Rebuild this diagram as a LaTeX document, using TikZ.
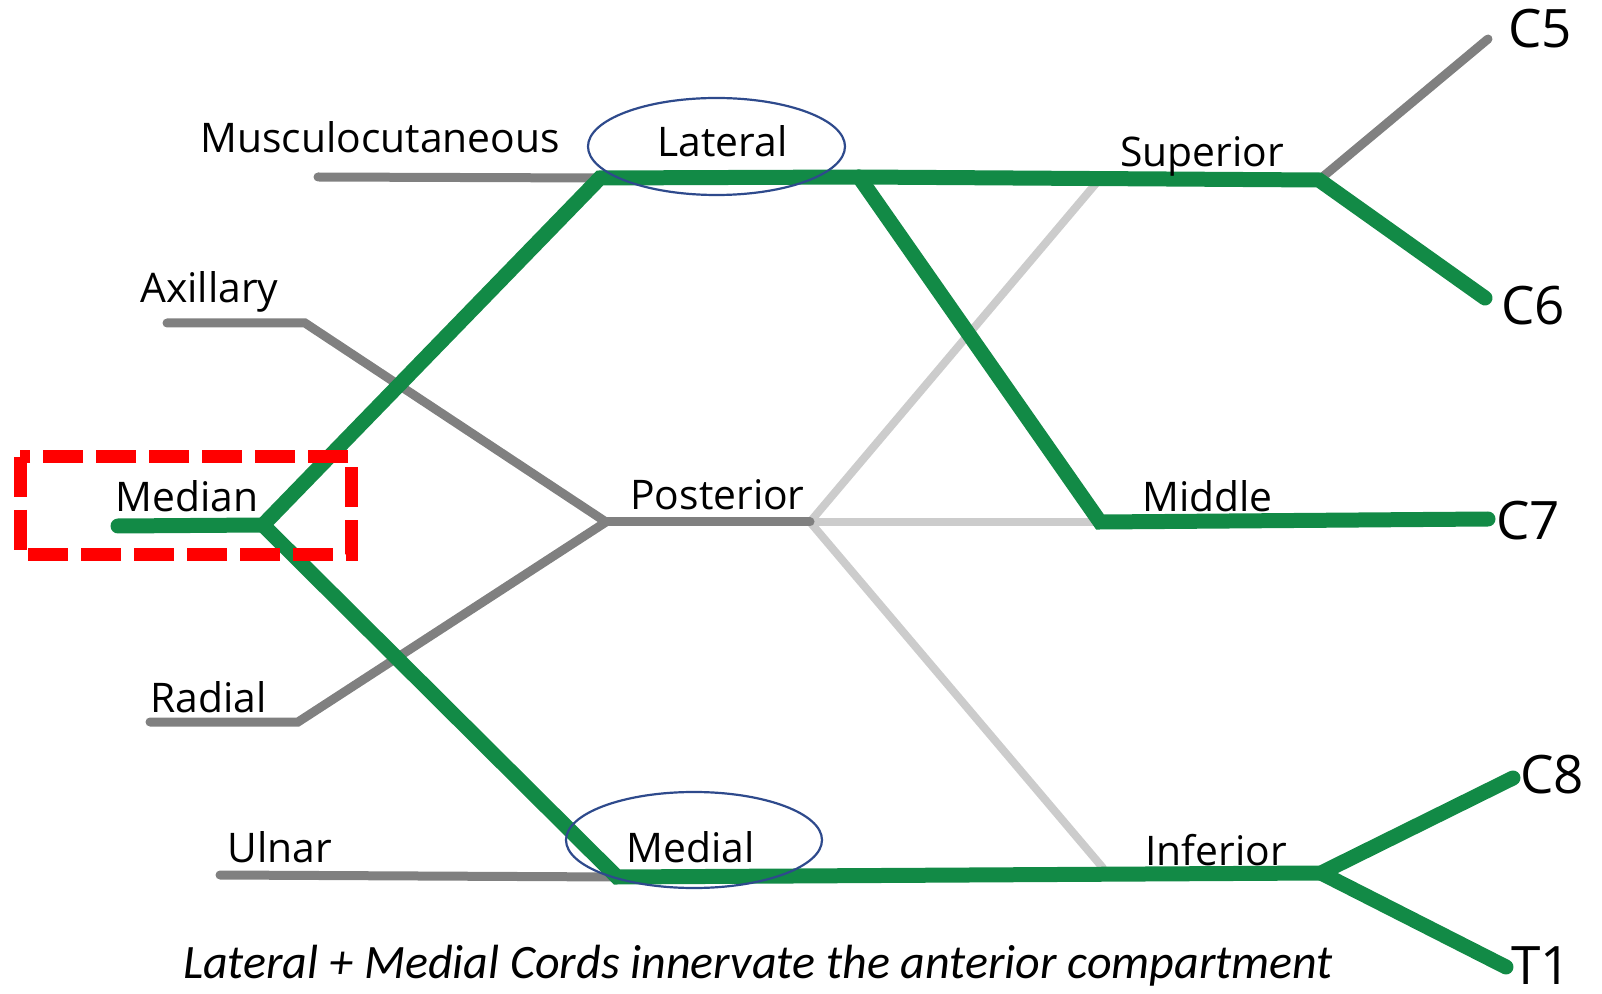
\documentclass[tikz,border=0pt]{standalone}
\usepackage{fontspec}
\setmainfont{Open Sans}
\newfontfamily\capfont{Carlito}
\definecolor{nervegreen}{RGB}{18,138,70}
\definecolor{darkgrey}{RGB}{128,128,128}
\definecolor{lightgrey}{RGB}{204,204,204}
\definecolor{ovalblue}{RGB}{46,74,140}
\tikzset{
  greenline/.style={draw=nervegreen, line width=7.5pt, line cap=round, line join=miter},
  greyline/.style={draw=darkgrey, line width=4.5pt, line cap=round, line join=miter},
  paleline/.style={draw=lightgrey, line width=4pt, line cap=round, line join=miter},
  lbl/.style={anchor=base west, inner sep=0pt, font=\fontsize{20.4}{24}\selectfont},
  root/.style={anchor=base west, inner sep=0pt, font=\fontsize{26.5}{31}\selectfont},
  oval/.style={draw=ovalblue, line width=1.1pt},
  redbox/.style={draw=red, line width=6.5pt, dash pattern=on 20pt off 6.5pt}
}
\begin{document}
\begin{tikzpicture}[x=0.5pt,y=-0.5pt]
\useasboundingbox (0,0) rectangle (1602,994);
% junction coordinates
\coordinate (musc) at (318,177);
\coordinate (lat) at (600,178);
\coordinate (axs) at (167,323);
\coordinate (axb) at (305,323);
\coordinate (rads) at (150,722);
\coordinate (radb) at (298,722);
\coordinate (post) at (606,522);
\coordinate (postend) at (810,522);
\coordinate (uln) at (220,875);
\coordinate (med) at (617,877);
\coordinate (medn) at (118,526);
\coordinate (mj) at (263,525);
\coordinate (lb) at (859,177);
\coordinate (supj) at (1319,180);
\coordinate (supl) at (1098,181);
\coordinate (midj) at (1100,522);
\coordinate (infj) at (1321,873);
\coordinate (infl) at (1103,868);
\coordinate (c5) at (1488,39);
\coordinate (c6) at (1485,298);
\coordinate (c7) at (1488,519);
\coordinate (c8) at (1513,778);
\coordinate (t1) at (1506,967);
% pale grey lines
\draw[paleline] (postend) -- (supl);
\draw[paleline] (postend) -- (midj);
\draw[paleline] (postend) -- (infl);
% dark grey lines
\draw[greyline] (musc) -- (lat);
\draw[greyline] (axs) -- (axb) -- (post);
\draw[greyline] (rads) -- (radb) -- (post);
\draw[greyline] (post) -- (postend);
\draw[greyline] (uln) -- (med);
\draw[greyline] (supj) -- (c5);
% green lines
\draw[greenline] (medn) -- (mj);
\draw[greenline] (mj) -- (lat) -- (lb) -- (supj) -- (c6);
\draw[greenline] (lb) -- (midj) -- (c7);
\draw[greenline] (mj) -- (med) -- (infj) -- (c8);
\draw[greenline] (infj) -- (t1);
% labels
\node[lbl] (lmusc) at (200,153) {Musculocutaneous};
\node[lbl] (llat) at (657,157) {Lateral};
\node[lbl] (lax) at (140,303) {Axillary};
\node[lbl] (lmed) at (115,512) {Median};
\node[lbl] (lpost) at (630,510) {Posterior};
\node[lbl] (lrad) at (150,712) {Radial};
\node[lbl] (luln) at (227,862) {Ulnar};
\node[lbl] (lmedial) at (626,862) {Medial};
\node[lbl] (lsup) at (1120,167) {Superior};
\node[lbl] (lmid) at (1142,512) {Middle};
\node[lbl] (linf) at (1145,865) {Inferior};
\node[root] (rc5) at (1508,48) {C5};
\node[root] (rc6) at (1501,325) {C6};
\node[root] (rc7) at (1496,540) {C7};
\node[root] (rc8) at (1520,793) {C8};
\node[root] (rt1) at (1511,984) {T1};
% ovals
\draw[oval] (716.5,146.5) ellipse [x radius=64.25pt, y radius=24.25pt];
\draw[oval] (694,840) ellipse [x radius=64pt, y radius=24pt];
% red dashed box
\draw[redbox] (20,457) rectangle (351,555);
% caption
\node[anchor=base, inner sep=0pt, font=\capfont\itshape\fontsize{24}{29}\selectfont] (cap) at (758,978) {Lateral + Medial Cords innervate the anterior compartment};
\end{tikzpicture}
\end{document}
